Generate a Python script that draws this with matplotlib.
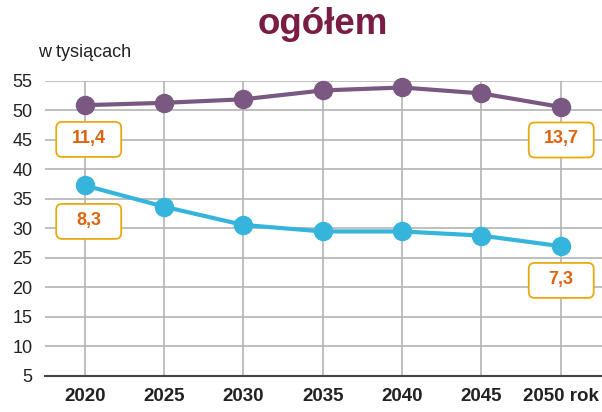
import matplotlib
matplotlib.use("Agg")
import matplotlib.pyplot as plt
from matplotlib.patches import FancyBboxPatch
from matplotlib.transforms import ScaledTranslation

# data
years = [2020, 2025, 2030, 2035, 2040, 2045, 2050]
year_labels = ["2020", "2025", "2030", "2035", "2040", "2045", "2050 rok"]
upper = [50.9, 51.3, 51.9, 53.4, 53.9, 52.9, 50.6]
lower = [37.3, 33.7, 30.6, 29.5, 29.5, 28.8, 27.0]
y_ticks = [5, 10, 15, 20, 25, 30, 35, 40, 45, 50, 55]

# boxed annotations: (year, value position, text)
boxes = [(2020, 45.1, "11,4"), (2020, 31.2, "8,3"),
         (2050, 45.0, "13,7"), (2050, 21.2, "7,3")]

PURPLE = "#7A5882"
BLUE = "#35B4DC"
GRID = "#B4B4B4"
TXT = "#222222"

plt.rcParams["font.family"] = ["Liberation Sans", "DejaVu Sans"]

fig = plt.figure(figsize=(6.02, 4.12), dpi=100)
ax = fig.add_axes([0.0748, 0.0874, 0.9252, 0.716])

ax.plot(years, upper, "-o", color=PURPLE, lw=3, ms=13, clip_on=False, zorder=3)
ax.plot(years, lower, "-o", color=BLUE, lw=3, ms=13, clip_on=False, zorder=3)

ax.set_xlim(2017.5, 2052.6)
ax.set_ylim(5, 55)
ax.set_xticks(years)
ax.set_xticklabels(year_labels, fontweight="bold", fontsize=13.5, color=TXT)
ax.set_yticks(y_ticks)
ax.set_yticklabels([str(v) for v in y_ticks], fontsize=13, color=TXT)
ax.tick_params(axis="both", length=0)
ax.tick_params(axis="x", pad=9)
ax.tick_params(axis="y", pad=9)

ax.grid(True, color=GRID, lw=1.2)
ax.set_axisbelow(True)
for s in ["top", "right", "left"]:
    ax.spines[s].set_visible(False)
ax.spines["bottom"].set_color("#444444")
ax.spines["bottom"].set_linewidth(1.5)

# fixed-size rounded boxes (65 x 35 px) centred on the data point
bw, bh = 0.65, 0.35
for x, y, t in boxes:
    dx = 0.04 if x == years[0] else 0.005
    tr = fig.dpi_scale_trans + ScaledTranslation(x, y, ax.transData)
    box = FancyBboxPatch((dx - bw / 2, -bh / 2), bw, bh,
                         boxstyle="round,pad=0,rounding_size=0.06",
                         fc="white", ec="#E8AA10", lw=1.3,
                         transform=tr, zorder=5, clip_on=False)
    ax.add_patch(box)
    ax.text(dx, 0.01, t, transform=tr, ha="center", va="center",
            fontsize=13, fontweight="bold", color="#E0620E", zorder=6)

fig.text(0.536, 0.94, "ogółem", ha="center", va="center", fontsize=26.5,
         fontweight="bold", color="#7A1D45")
fig.text(0.064, 0.873, "w tysiącach", ha="left", va="center", fontsize=13,
         color=TXT)

fig.savefig("out.png", dpi=100)
